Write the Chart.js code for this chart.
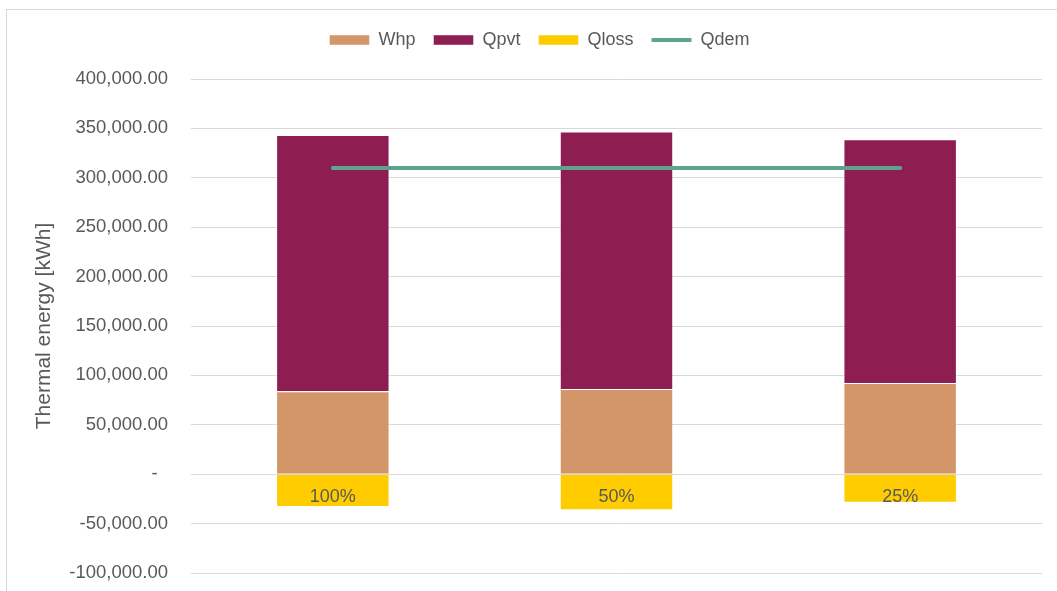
<!DOCTYPE html>
<html>
<head>
<meta charset="utf-8">
<script src="https://cdn.jsdelivr.net/npm/chart.js@4"></script>
<style>
  html, body { margin: 0; padding: 0; background: #fff; overflow: hidden; }
  #frame {
    position: absolute; left: 6px; top: 9px; width: 1100px; height: 640px;
    border: 1px solid #d9d9d9;
  }
  #wrap { position: absolute; left: 0; top: 0; width: 1079px; height: 591px; }
</style>
</head>
<body>
<div id="frame"></div>
<div id="wrap"><canvas id="energy"></canvas></div>
<script>
const categories = ['100%', '50%', '25%'];
const whp = [84000, 86300, 92400];
const qpvt = [259400, 260600, 246700];
const qloss = [-33100, -36400, -29000];
const qdem = [310000, 310000, 310000];

const FONT = '"Liberation Sans", Arial, sans-serif';
const GREY = '#595959';

// category names sit just under the zero line, like the Excel original
const categoryLabels = {
  id: 'categoryLabels',
  afterDatasetsDraw(chart) {
    const { ctx, scales: { x, y } } = chart;
    const y0 = y.getPixelForValue(0);
    ctx.save();
    ctx.font = '18px ' + FONT;
    ctx.fillStyle = GREY;
    ctx.textAlign = 'center';
    ctx.textBaseline = 'middle';
    categories.forEach((c, i) => ctx.fillText(c, x.getPixelForValue(i), y0 + 23));
    ctx.restore();
  }
};

// give the legend a fixed band so the plot starts where we want it
const legendBand = {
  id: 'legendBand',
  afterInit(chart) {
    const legend = chart.legend;
    const fit = legend.fit;
    legend.fit = function () {
      fit.call(this);
      this.height = 66;
    };
  }
};

Chart.defaults.font.family = FONT;
Chart.defaults.font.size = 18;
Chart.defaults.color = GREY;

new Chart(document.getElementById('energy'), {
  type: 'bar',
  data: {
    labels: categories,
    datasets: [
      { label: 'Whp', data: whp, backgroundColor: '#D39668', borderColor: 'rgba(255,255,255,0.45)',
        borderWidth: 1, stack: 'energy', order: 1, pointStyle: 'rect' },
      { label: 'Qpvt', data: qpvt, backgroundColor: '#8E1D52', borderColor: 'rgba(255,255,255,0.45)',
        borderWidth: 1, stack: 'energy', order: 1, pointStyle: 'rect' },
      { label: 'Qloss', data: qloss, backgroundColor: '#FFCC00', borderColor: 'rgba(255,255,255,0.45)',
        borderWidth: 1, stack: 'energy', order: 1, pointStyle: 'rect' },
      { type: 'line', label: 'Qdem', data: qdem, borderColor: '#5FA38D', backgroundColor: '#5FA38D',
        borderWidth: 4, borderCapStyle: 'round', pointRadius: 0, pointHoverRadius: 0,
        pointStyle: 'line', pointBorderWidth: 4, stack: 'demand', order: 0 }
    ]
  },
  options: {
    responsive: true,
    maintainAspectRatio: false,
    animation: false,
    layout: { padding: { top: 13, right: 37, bottom: 18, left: 37 } },
    datasets: { bar: { categoryPercentage: 1, barPercentage: 0.4 } },
    plugins: {
      tooltip: { enabled: false },
      legend: {
        position: 'top',
        labels: {
          usePointStyle: true,
          pointStyleWidth: 40,
          boxHeight: 10,
          padding: 18,
          color: GREY,
          font: { size: 18 },
          sort: (a, b) => a.datasetIndex - b.datasetIndex
        }
      }
    },
    scales: {
      x: { display: false, stacked: true },
      y: {
        stacked: true,
        min: -100000,
        max: 400000,
        border: { display: false },
        grid: { color: '#d9d9d9', lineWidth: 1, drawTicks: false },
        ticks: {
          stepSize: 50000,
          padding: 23,
          color: GREY,
          font: { size: 18.5 },
          callback: v => v === 0 ? '-  ' : v.toLocaleString('en-US', { minimumFractionDigits: 2, maximumFractionDigits: 2 })
        },
        title: {
          display: true,
          text: 'Thermal energy [kWh]',
          color: GREY,
          font: { size: 21 },
          padding: { top: -5 }
        },
        afterFit(scale) {
          scale.width = 154;
          scale.paddingTop = 0;
          scale.paddingBottom = 0;
        }
      }
    }
  },
  plugins: [categoryLabels, legendBand]
});
</script>
</body>
</html>
